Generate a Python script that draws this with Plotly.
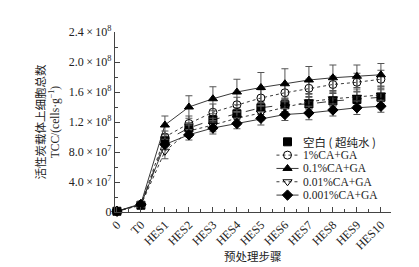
import plotly.graph_objects as go

categories = ["0", "T0", "HES1", "HES2", "HES3", "HES4", "HES5", "HES6", "HES7", "HES8", "HES9", "HES10"]

blank = [0.1, 0.9, 9.5, 11.2, 12.3, 13.1, 13.9, 14.3, 14.4, 14.8, 15.0, 15.3]
blank_err = [0.2, 0.3, 0.8, 0.7, 0.8, 0.8, 0.9, 0.9, 1.0, 1.0, 1.0, 1.0]
ca1 = [0.1, 1.0, 10.0, 11.8, 13.3, 14.3, 15.2, 15.9, 16.5, 17.0, 17.3, 17.7]
ca1_err = [0.2, 0.3, 0.8, 1.0, 1.1, 1.0, 1.1, 1.2, 1.2, 1.1, 1.2, 1.2]
ca01 = [0.1, 1.1, 11.6, 14.0, 15.1, 16.0, 16.6, 17.1, 17.6, 17.9, 18.1, 18.3]
ca01_err = [0.2, 0.3, 1.2, 1.5, 1.6, 1.7, 2.0, 2.0, 1.8, 1.7, 1.5, 1.5]
ca001 = [0.1, 0.9, 8.1, 10.8, 11.6, 12.5, 13.2, 14.0, 14.7, 15.1, 15.3, 15.6]
ca001_err = [0.2, 0.3, 1.0, 0.8, 0.9, 0.9, 1.0, 1.0, 1.0, 1.0, 1.1, 1.1]
ca0001 = [0.1, 1.0, 9.0, 10.3, 11.2, 11.8, 12.5, 13.0, 13.2, 13.6, 13.9, 14.1]
ca0001_err = [0.2, 0.3, 0.7, 0.7, 0.8, 0.7, 0.9, 0.8, 0.9, 0.8, 0.9, 0.8]

series_names = ["空白 ( 超纯水 )", "1%CA+GA", "0.1%CA+GA", "0.01%CA+GA", "0.001%CA+GA"]

ytick_vals = [0, 4e7, 8e7, 1.2e8, 1.6e8, 2.0e8, 2.4e8]
ytick_text = ["0", "4.0\u2009×\u200910<sup>7</sup>", "8.0\u2009×\u200910<sup>7</sup>", "1.2\u2009×\u200910<sup>8</sup>",
              "1.6\u2009×\u200910<sup>8</sup>", "2.0\u2009×\u200910<sup>8</sup>", "2.4\u2009×\u200910<sup>8</sup>"]

x = list(range(len(categories)))
scale = 1e7

styles = [
    ("square", "dash", False),
    ("circle-open", "dot", True),
    ("triangle-up", "solid", True),
    ("triangle-down-open", "dot", True),
    ("diamond", "solid", True),
]
values = [blank, ca1, ca01, ca001, ca0001]
errors = [blank_err, ca1_err, ca01_err, ca001_err, ca0001_err]

serif = "Liberation Serif, Times New Roman, serif"
cjk = "Noto Sans CJK SC, serif"

fig = go.Figure()
for name, vals, errs, (sym, dash, _) in zip(series_names, values, errors, styles):
    fig.add_trace(go.Scatter(
        x=x, y=[v * scale for v in vals], name=name, mode="lines+markers",
        line=dict(color="#222", width=0.9, dash=dash),
        marker=dict(symbol=sym, size=8, color="black", line=dict(color="black", width=1)),
        error_y=dict(type="data", array=[e * scale for e in errs], color="#555", thickness=1, width=3.5),
        cliponaxis=False, showlegend=False,
    ))

# custom compact legend drawn on an invisible overlay axis (0..1 frame)
leg_x0, leg_x1, leg_xm, leg_tx = 0.585, 0.665, 0.625, 0.675
leg_y0, leg_dy = 0.39, 0.074
for i, (name, (sym, dash, show_line)) in enumerate(zip(series_names, styles)):
    yy = leg_y0 - i * leg_dy
    if show_line:
        fig.add_trace(go.Scatter(
            x=[leg_x0, leg_x1], y=[yy, yy], mode="lines", xaxis="x2", yaxis="y2",
            line=dict(color="#222", width=0.9, dash=dash), showlegend=False, hoverinfo="skip"))
    fig.add_trace(go.Scatter(
        x=[leg_xm], y=[yy], mode="markers", xaxis="x2", yaxis="y2",
        marker=dict(symbol=sym, size=8, color="black", line=dict(color="black", width=1)),
        showlegend=False, hoverinfo="skip"))
    fig.add_annotation(x=leg_tx, y=yy, xref="x2", yref="y2", text=name, showarrow=False,
                       xanchor="left", yanchor="middle",
                       font=dict(size=11.5, family=cjk if i == 0 else serif, color="#222"))

fig.add_annotation(x=-0.27, y=0.5, xref="paper", yref="paper", text="活性炭载体上细胞总数",
                   textangle=-90, showarrow=False, xanchor="center", yanchor="middle",
                   font=dict(size=11.5, family=cjk, color="#222"))
fig.add_annotation(x=-0.22, y=0.5, xref="paper", yref="paper", text="TCC/(cells·g<sup>−1</sup>)",
                   textangle=-90, showarrow=False, xanchor="center", yanchor="middle",
                   font=dict(size=11.5, family=serif, color="#222"))
fig.add_annotation(x=0.5, y=-0.245, xref="paper", yref="paper", text="预处理步骤",
                   showarrow=False, xanchor="center", yanchor="middle",
                   font=dict(size=11.5, family=cjk, color="#222"))

fig.update_layout(
    width=419, height=267,
    margin=dict(l=107, r=36, t=24, b=63),
    paper_bgcolor="white", plot_bgcolor="white",
    font=dict(family=serif, size=12, color="#222"),
    showlegend=False,
    xaxis=dict(
        range=[-0.08, 11.42], tickmode="array", tickvals=x, ticktext=categories,
        tickangle=-45, ticks="inside", ticklen=5, tickcolor="#444", automargin=False,
        showline=True, linecolor="#444", linewidth=1.2, showgrid=False, zeroline=False,
        minor=dict(tickvals=[i + 0.5 for i in x[:-1]], ticks="inside", ticklen=3, tickcolor="#444"),
        tickfont=dict(size=12),
    ),
    yaxis=dict(
        range=[0, 2.4e8], tickmode="array", tickvals=ytick_vals, ticktext=ytick_text,
        ticks="inside", ticklen=5, tickcolor="#444", automargin=False,
        showline=True, linecolor="#444", linewidth=1.2, showgrid=False, zeroline=False,
        minor=dict(tickvals=[2e7, 6e7, 1e8, 1.4e8, 1.8e8, 2.2e8], ticks="inside", ticklen=3, tickcolor="#444"),
        tickfont=dict(size=12),
    ),
    xaxis2=dict(overlaying="x", range=[0, 1], visible=False, fixedrange=True),
    yaxis2=dict(overlaying="y", range=[0, 1], visible=False, fixedrange=True),
)

fig.write_html("out.html")
